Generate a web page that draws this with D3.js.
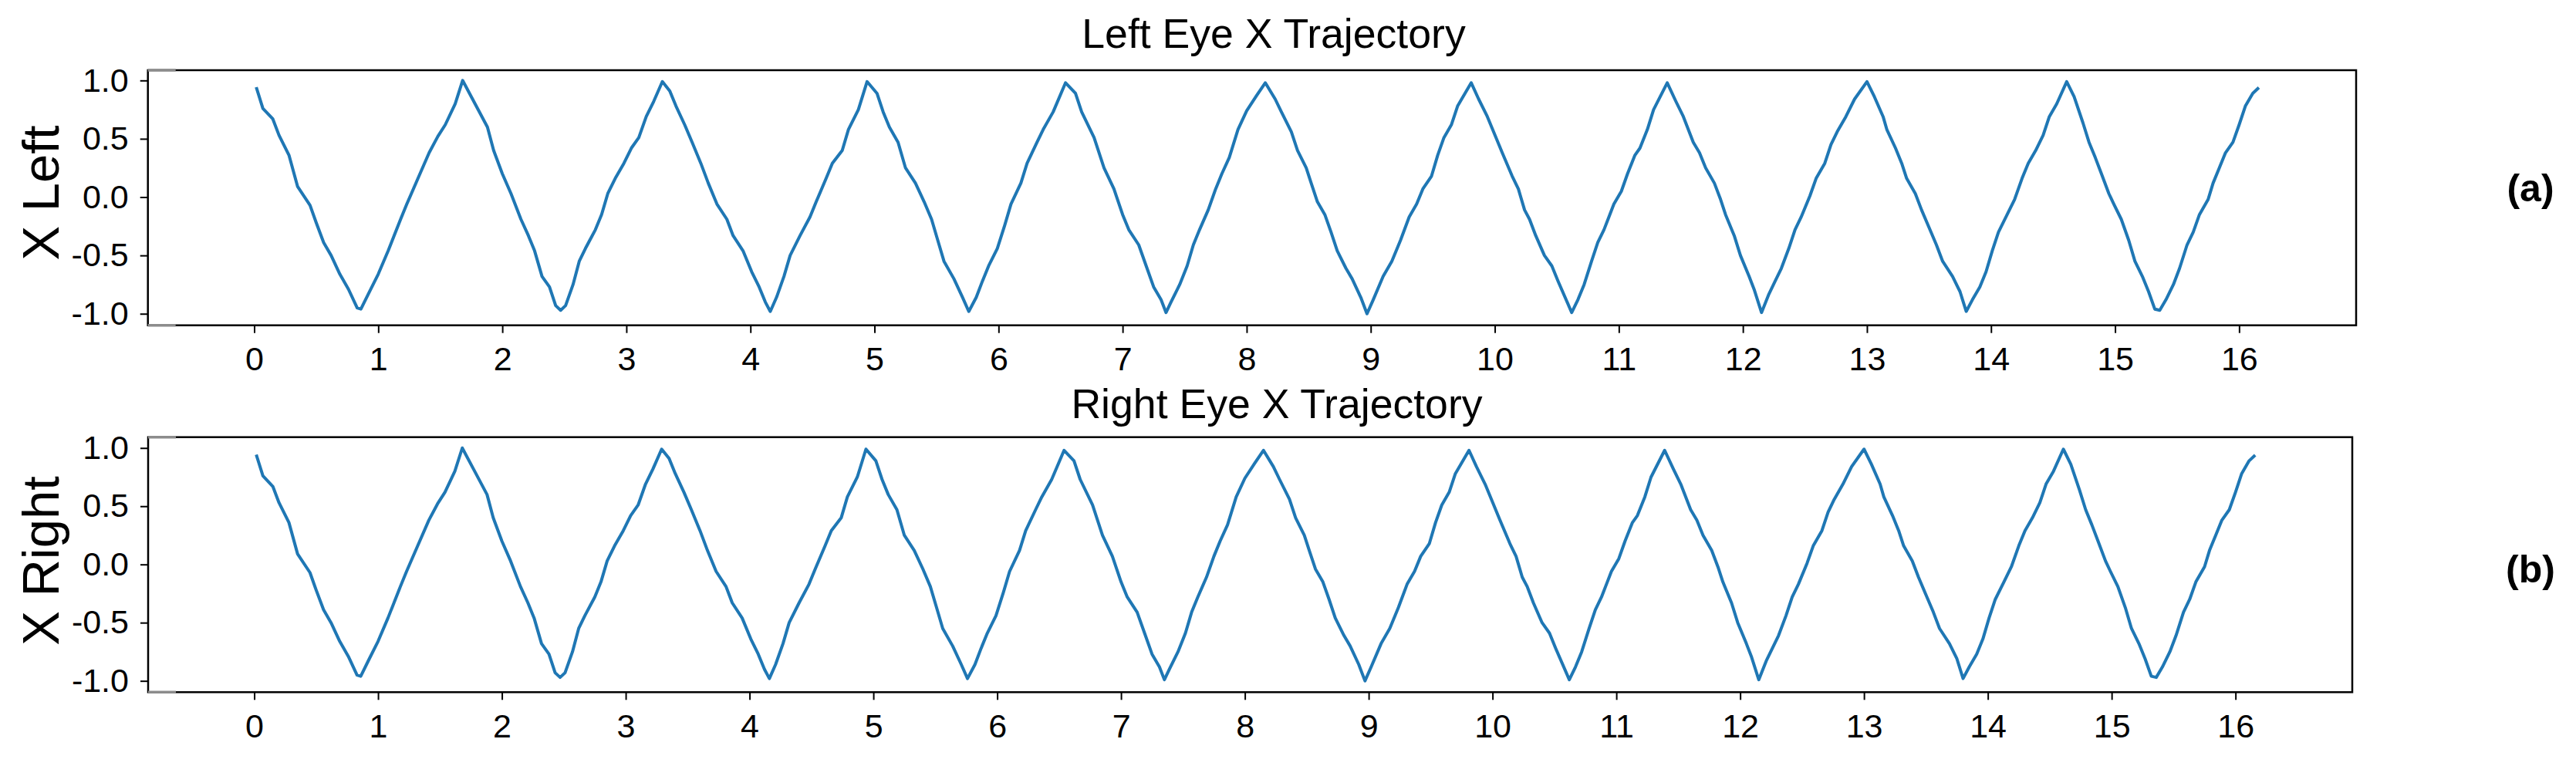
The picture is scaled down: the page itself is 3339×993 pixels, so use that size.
<!DOCTYPE html>
<html>
<head>
    <meta charset="utf-8">
    <script src="https://d3js.org/d3.v7.min.js"></script>
    <style>
        body { margin: 0; background: #fff; }
        text { font-family: "Liberation Sans", Arial, sans-serif; fill: #000; }
    </style>
</head>
<body>
    <div id="chart"></div>

    <script>
        // Time (s) of each sample
        const time = [
            0.02, 0.07, 0.15, 0.20, 0.28, 0.35, 0.45, 0.50, 0.56, 0.62, 0.69, 0.76, 0.83, 0.86, 0.92, 1.00,
            1.08, 1.18, 1.23, 1.32, 1.41, 1.48, 1.54, 1.62, 1.68, 1.77, 1.88, 1.93, 2.00, 2.07, 2.15, 2.21,
            2.26, 2.32, 2.38, 2.43, 2.47, 2.51, 2.57, 2.62, 2.67, 2.75, 2.80, 2.85, 2.91, 2.98, 3.04, 3.10,
            3.16, 3.22, 3.29, 3.35, 3.40, 3.47, 3.53, 3.60, 3.66, 3.73, 3.81, 3.86, 3.94, 4.01, 4.07, 4.12,
            4.16, 4.21, 4.27, 4.32, 4.40, 4.48, 4.53, 4.61, 4.66, 4.74, 4.79, 4.87, 4.94, 5.02, 5.07, 5.12,
            5.19, 5.25, 5.33, 5.40, 5.46, 5.51, 5.56, 5.64, 5.71, 5.76, 5.82, 5.87, 5.92, 5.99, 6.05, 6.10,
            6.18, 6.23, 6.31, 6.36, 6.44, 6.54, 6.62, 6.67, 6.77, 6.85, 6.93, 7.00, 7.05, 7.13, 7.19, 7.25,
            7.31, 7.35, 7.39, 7.46, 7.52, 7.57, 7.62, 7.69, 7.75, 7.80, 7.86, 7.93, 8.00, 8.08, 8.15, 8.23,
            8.28, 8.36, 8.41, 8.48, 8.52, 8.57, 8.63, 8.68, 8.73, 8.80, 8.85, 8.92, 8.97, 9.02, 9.10, 9.17,
            9.24, 9.31, 9.37, 9.42, 9.49, 9.54, 9.59, 9.65, 9.70, 9.81, 9.87, 9.94, 10.01, 10.06, 10.14, 10.19,
            10.24, 10.28, 10.33, 10.40, 10.46, 10.51, 10.62, 10.67, 10.72, 10.78, 10.83, 10.88, 10.92, 10.96, 11.02, 11.07,
            11.13, 11.17, 11.23, 11.28, 11.39, 11.46, 11.52, 11.60, 11.65, 11.70, 11.77, 11.82, 11.86, 11.93, 11.98, 12.05,
            12.09, 12.15, 12.21, 12.26, 12.31, 12.37, 12.42, 12.47, 12.54, 12.59, 12.66, 12.71, 12.76, 12.83, 12.90, 13.00,
            13.06, 13.13, 13.16, 13.23, 13.28, 13.32, 13.39, 13.44, 13.50, 13.56, 13.61, 13.69, 13.75, 13.80, 13.85, 13.91,
            13.96, 14.01, 14.06, 14.13, 14.19, 14.25, 14.30, 14.36, 14.42, 14.47, 14.53, 14.61, 14.67, 14.74, 14.79, 14.84,
            14.89, 14.95, 14.99, 15.05, 15.11, 15.16, 15.22, 15.27, 15.32, 15.36, 15.41, 15.47, 15.52, 15.58, 15.63, 15.68,
            15.75, 15.79, 15.84, 15.89, 15.95, 16.00, 16.05, 16.11, 16.15
        ];

        // Left eye x position
        const xLeft = [
            0.93, 0.76, 0.67, 0.53, 0.36, 0.09, -0.07, -0.22, -0.39, -0.50, -0.66, -0.79, -0.95, -0.96, -0.83, -0.66,
            -0.46, -0.19, -0.06, 0.16, 0.38, 0.52, 0.62, 0.80, 1.00, 0.82, 0.60, 0.40, 0.20, 0.03, -0.19, -0.33,
            -0.46, -0.68, -0.77, -0.93, -0.97, -0.93, -0.75, -0.55, -0.44, -0.28, -0.15, 0.03, 0.16, 0.29, 0.42, 0.51,
            0.69, 0.82, 0.99, 0.91, 0.78, 0.62, 0.47, 0.29, 0.12, -0.06, -0.19, -0.33, -0.46, -0.64, -0.77, -0.90,
            -0.98, -0.86, -0.68, -0.50, -0.33, -0.17, -0.04, 0.16, 0.29, 0.40, 0.58, 0.75, 0.99, 0.89, 0.73, 0.60,
            0.47, 0.25, 0.12, -0.04, -0.19, -0.37, -0.55, -0.70, -0.86, -0.98, -0.86, -0.72, -0.59, -0.44, -0.24, -0.06,
            0.12, 0.29, 0.47, 0.58, 0.73, 0.98, 0.89, 0.73, 0.51, 0.25, 0.07, -0.15, -0.28, -0.41, -0.59, -0.77,
            -0.88, -0.99, -0.90, -0.75, -0.59, -0.41, -0.28, -0.11, 0.07, 0.20, 0.34, 0.58, 0.74, 0.87, 0.98, 0.84,
            0.73, 0.56, 0.40, 0.25, 0.12, -0.04, -0.15, -0.30, -0.46, -0.61, -0.70, -0.86, -1.00, -0.88, -0.68, -0.55,
            -0.37, -0.17, -0.06, 0.07, 0.18, 0.36, 0.51, 0.62, 0.78, 0.98, 0.84, 0.69, 0.51, 0.38, 0.18, 0.07,
            -0.11, -0.19, -0.33, -0.50, -0.59, -0.72, -0.99, -0.88, -0.75, -0.55, -0.39, -0.28, -0.17, -0.06, 0.05, 0.20,
            0.36, 0.42, 0.58, 0.75, 0.98, 0.82, 0.69, 0.47, 0.38, 0.25, 0.12, -0.02, -0.15, -0.33, -0.50, -0.68,
            -0.79, -0.99, -0.83, -0.72, -0.61, -0.44, -0.28, -0.17, 0.01, 0.16, 0.29, 0.45, 0.56, 0.69, 0.84, 0.99,
            0.86, 0.69, 0.58, 0.42, 0.29, 0.16, 0.03, -0.11, -0.26, -0.41, -0.55, -0.68, -0.81, -0.98, -0.88, -0.77,
            -0.64, -0.46, -0.30, -0.15, -0.02, 0.16, 0.29, 0.40, 0.53, 0.69, 0.80, 0.99, 0.86, 0.64, 0.47, 0.34,
            0.20, 0.03, -0.06, -0.19, -0.37, -0.55, -0.68, -0.81, -0.96, -0.97, -0.88, -0.75, -0.61, -0.41, -0.30, -0.15,
            -0.02, 0.12, 0.25, 0.38, 0.47, 0.62, 0.78, 0.89, 0.93
        ];

        // Right eye x position (the trace reads the same as the left eye)
        const xRight = xLeft.slice();

        const titles = ["Left Eye X Trajectory", "Right Eye X Trajectory"];
        const yLabels = ["X Left", "X Right"];
        const panelTags = ["(a)", "(b)"];
        const xTicks = [0, 1, 2, 3, 4, 5, 6, 7, 8, 9, 10, 11, 12, 13, 14, 15, 16];
        const yTicks = [-1.0, -0.5, 0.0, 0.5, 1.0];

        const width = 3339, height = 993;
        const blue = "#1f77b4";

        // Panel boxes
        const panels = [
            { values: xLeft, left: 191.7, right: 3054, top: 91, bottom: 421.7,
              yDomain: [-1.099, 1.088], titleX: 1651, titleY: 61.7, labelY: 250, tagY: 261 },
            { values: xRight, left: 192, right: 3049, top: 566.7, bottom: 897.3,
              yDomain: [-1.097, 1.093], titleX: 1655, titleY: 541.7, labelY: 727, tagY: 755 }
        ];

        const svg = d3.select("#chart").append("svg")
            .attr("width", width)
            .attr("height", height)
            .style("background", "#fff");

        panels.forEach((p, i) => {
            const x = d3.scaleLinear().domain([-0.857, 16.943]).range([p.left, p.right]);
            const y = d3.scaleLinear().domain(p.yDomain).range([p.bottom, p.top]);

            const g = svg.append("g");

            // line
            const line = d3.line()
                .x((d, j) => x(time[j]))
                .y(d => y(d));

            g.append("path")
                .datum(p.values)
                .attr("d", line)
                .attr("fill", "none")
                .attr("stroke", blue)
                .attr("stroke-width", 4)
                .attr("stroke-linejoin", "round")
                .attr("stroke-linecap", "square");

            // x axis
            const xAxis = g.append("g")
                .attr("transform", `translate(0,${p.bottom})`)
                .call(d3.axisBottom(x).tickValues(xTicks).tickSize(10).tickPadding(18).tickFormat(d3.format("d")));
            // y axis
            const yAxis = g.append("g")
                .attr("transform", `translate(${p.left},0)`)
                .call(d3.axisLeft(y).tickValues(yTicks).tickSize(10).tickPadding(15).tickFormat(d => d.toFixed(1)));

            [xAxis, yAxis].forEach(a => {
                a.select(".domain").remove();
                a.selectAll(".tick line").attr("stroke", "#000").attr("stroke-width", 2);
                a.selectAll(".tick text")
                    .style("font-family", '"Liberation Sans", Arial, sans-serif')
                    .style("font-size", "43px")
                    .attr("fill", "#000");
            });

            // frame
            g.append("rect")
                .attr("x", p.left)
                .attr("y", p.top)
                .attr("width", p.right - p.left)
                .attr("height", p.bottom - p.top)
                .attr("fill", "none")
                .attr("stroke", "#000")
                .attr("stroke-width", 2.5);

            // grey stubs on the left end of the top and bottom spines
            [p.top, p.bottom].forEach(yy => {
                g.append("line")
                    .attr("x1", p.left).attr("x2", p.left + 36)
                    .attr("y1", yy).attr("y2", yy)
                    .attr("stroke", "#8c8c8c")
                    .attr("stroke-width", 3.5);
            });

            // title
            svg.append("text")
                .attr("x", p.titleX)
                .attr("y", p.titleY)
                .attr("text-anchor", "middle")
                .style("font-size", "53.6px")
                .text(titles[i]);

            // y label
            svg.append("text")
                .attr("transform", `translate(76,${p.labelY}) rotate(-90)`)
                .attr("text-anchor", "middle")
                .style("font-size", "67px")
                .text(yLabels[i]);

            // panel tag
            svg.append("text")
                .attr("x", 3280)
                .attr("y", p.tagY)
                .attr("text-anchor", "middle")
                .style("font-size", "50px")
                .style("font-weight", "bold")
                .text(panelTags[i]);
        });
    </script>
</body>
</html>
